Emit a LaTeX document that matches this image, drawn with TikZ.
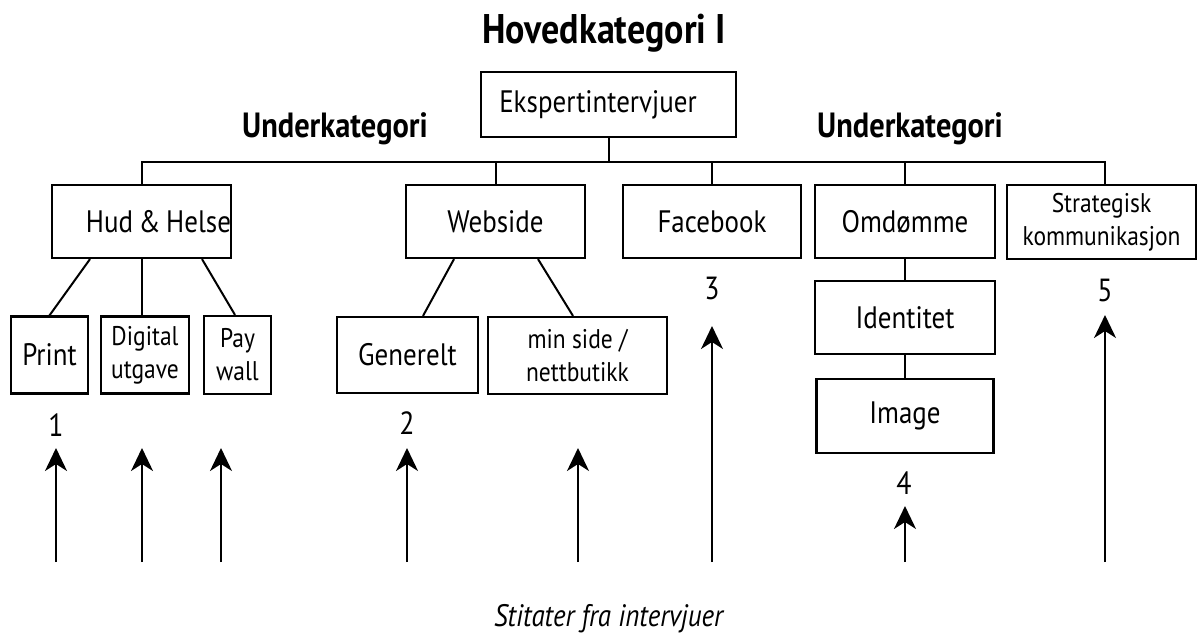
\documentclass[tikz,border=0pt]{standalone}
\usepackage{fontspec}
\setmainfont{PT Sans}[FakeStretch=0.87]
\usetikzlibrary{arrows.meta, positioning}

\begin{document}
\begin{tikzpicture}[
    x=0.5pt, y=-0.5pt,
    cat/.style={draw, line width=1.1pt, inner sep=0pt, align=center,
                font=\fontsize{15.5}{16.5}\selectfont},
    subcat/.style={cat, font=\fontsize{13.5}{16.5}\selectfont},
    hdr/.style={font=\fontsize{20.7}{22}\selectfont\bfseries},
    subhdr/.style={font=\fontsize{17.5}{19}\selectfont\bfseries},
    num/.style={font=\fontsize{16}{17}\selectfont},
    lnk/.style={line width=1pt},
    farr/.style={-{Stealth[length=11.5pt, width=11pt, inset=3.5pt]}, line width=1pt},
]
\useasboundingbox (0,0) rectangle (1198,633);

% Rows
\pgfmathsetmacro{\yT}{104.5}
\pgfmathsetmacro{\yU}{221.5}
\pgfmathsetmacro{\yL}{355}
\pgfmathsetmacro{\yB}{562}

% ===== HEADERS =====
\node[hdr, anchor=base] (hoved) at (604, 43) {Hovedkategori I};
\node[subhdr, anchor=base] (underL) at (335, 137) {Underkategori};
\node[subhdr, anchor=base] (underR) at (910, 137) {Underkategori};

% ===== MAIN CATEGORY =====
\node[cat, minimum width=127.5pt, minimum height=32.5pt] (eksp) at (608.5, \yT) {Ekspertintervjuer\hspace*{10.5pt}};

% ===== SUBCATEGORIES =====
\node[cat, minimum width=89.5pt, minimum height=36.5pt] (hud) at (141.5, \yU) {\hspace*{17pt}Hud\hspace{0.18em}\&\hspace{0.18em}Helse};
\node[cat, minimum width=89.5pt, minimum height=36.5pt] (web) at (495.5, \yU) {Webside};
\node[cat, minimum width=89pt, minimum height=36.5pt] (fb) at (712, \yU) {Facebook};
\node[cat, minimum width=90pt, minimum height=36.5pt] (omd) at (905, \yU) {Omdømme};
\node[subcat, minimum width=94.5pt, minimum height=37pt] (strat) at (1101.5, 222) {Strategisk\\kommunikasjon};

% ===== LEAVES =====
\node[cat, minimum width=38.5pt, minimum height=38.5pt] (print) at (49.5, \yL) {Print};
\node[subcat, minimum width=44pt, minimum height=38.5pt] (dig) at (145, \yL) {Digital\\utgave};
\node[subcat, minimum width=33.5pt, minimum height=39pt] (pay) at (237.5, \yL) {Pay\\wall};
\node[cat, minimum width=70.5pt, minimum height=38pt] (gen) at (407.5, \yL) {Generelt};
\node[subcat, minimum width=89.5pt, minimum height=38.5pt] (minside) at (577.5, 355.5) {min side /\\nettbutikk};
\node[cat, minimum width=90pt, minimum height=36.5pt] (ident) at (905, 317.5) {Identitet};
\node[cat, minimum width=88.5pt, minimum height=37pt] (img) at (905, 416) {Image};

% ===== TREE LINKS =====
\coordinate (bar) at (608.5, 162);
\coordinate (stratin) at ([xshift=1.75pt]strat.north);
\draw[lnk] (eksp.south) -- (eksp.south |- bar);
\draw[lnk] (hud.north) |- (stratin |- bar) -- (stratin);
\foreach \n in {web, fb, omd}
    \draw[lnk] (\n.north) -- (\n.north |- bar);

\draw[lnk] ([xshift=-25.75pt]hud.south) -- (print.north);
\draw[lnk] (hud.south) -- (hud.south |- dig.north);
\draw[lnk] ([xshift=30.25pt]hud.south) -- ([xshift=-1.25pt]pay.north);

\draw[lnk] ([xshift=-20.75pt]web.south) -- ([xshift=7.75pt]gen.north);
\draw[lnk] ([xshift=21.25pt]web.south) -- ([xshift=-2.25pt]minside.north);

\draw[lnk] (omd.south) -- (ident.north);
\draw[lnk] (ident.south) -- (img.north);

% ===== NUMBERS =====
\node[num] (n1) at (56, 425) {1};
\node[num] (n2) at (407, 423) {2};
\node[num] (n3) at (712, 288) {3};
\node[num] (n4) at (904, 483) {4};
\node[num] (n5) at (1105, 290) {5};

% ===== QUOTE ARROWS =====
\foreach \n/\xx/\yy in {1/56/448, 2/142/448, 3/221/448, 4/407/448, 5/578/448,
                         6/712/326, 7/905/506, 8/1105/315} {
    \coordinate (src\n) at (\xx, \yB);
    \coordinate (tip\n) at (\xx, \yy);
    \draw[farr] (src\n) -- (tip\n);
}

\node[num, font=\fontsize{15.5}{16}\selectfont\itshape, anchor=base] (kilde) at (608.5, 626) {Stitater fra intervjuer};

\end{tikzpicture}
\end{document}
